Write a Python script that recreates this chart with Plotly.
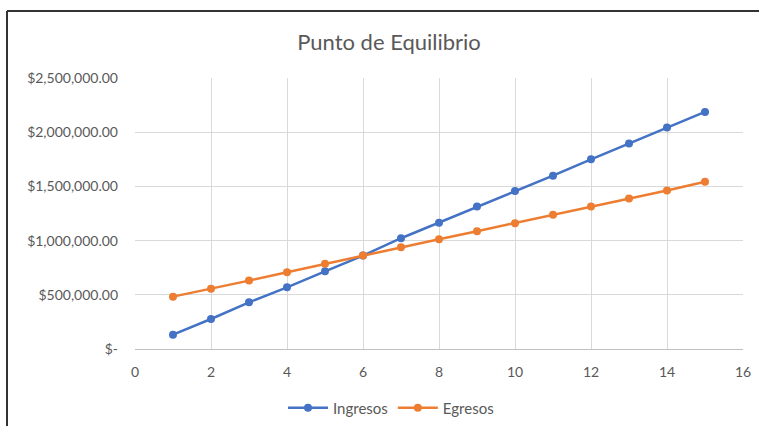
import plotly.graph_objects as go

periodos = list(range(1, 16))
ingresos = [132000, 277000, 431000, 569000, 717000, 862000, 1022000, 1165000,
            1315000, 1457000, 1599000, 1750000, 1895000, 2043000, 2187000]
egresos = [483000, 555000, 631000, 708000, 786000, 862000, 939000, 1013000,
           1087000, 1161000, 1238000, 1315000, 1389000, 1463000, 1543000]
y_ticks = [0, 500000, 1000000, 1500000, 2000000, 2500000]
y_labels = ["$-", "$500,000.00", "$1,000,000.00", "$1,500,000.00", "$2,000,000.00", "$2,500,000.00"]
x_ticks = [0, 2, 4, 6, 8, 10, 12, 14, 16]

FONT = "Lato"
GREY = "#595959"

fig = go.Figure()
fig.add_trace(go.Scatter(x=periodos, y=ingresos, name="Ingresos", mode="lines+markers",
                         line=dict(color="#4472C4", width=2.5),
                         marker=dict(size=8, color="#4472C4")))
fig.add_trace(go.Scatter(x=periodos, y=egresos, name="Egresos", mode="lines+markers",
                         line=dict(color="#ED7D31", width=2.5),
                         marker=dict(size=8, color="#ED7D31")))

W, H = 759, 426
L, R, T, B = 135, 16, 78, 77
pw, ph = W - L - R, H - T - B

def px(x):
    return (x - L) / pw

def py(y):
    return (H - B - y) / ph

fig.update_layout(
    width=W, height=H,
    margin=dict(l=L, r=R, t=T, b=B, autoexpand=False),
    paper_bgcolor="white", plot_bgcolor="white",
    font=dict(family=FONT, color=GREY, size=14),
    title=dict(text="Punto de Equilibrio", x=389 / W, xanchor="center", xref="container",
               y=1 - 42 / H, yanchor="middle", yref="container",
               font=dict(size=22, color=GREY, family=FONT)),
    showlegend=True,
    legend=dict(orientation="h", x=px(391), xanchor="center", y=py(408), yanchor="middle",
                font=dict(size=15, color=GREY, family=FONT), bgcolor="rgba(0,0,0,0)",
                itemwidth=40),
    xaxis=dict(range=[0, 16], tickvals=x_ticks, showgrid=True, gridcolor="#d9d9d9", gridwidth=1,
               zeroline=False, showline=True, linecolor="#bfbfbf", linewidth=1, automargin=False,
               ticks="", ticklabelstandoff=10, tickfont=dict(size=14, color=GREY)),
    yaxis=dict(range=[0, 2500000], tickvals=y_ticks, ticktext=y_labels, showgrid=True,
               gridcolor="#d9d9d9", gridwidth=1, zeroline=False, showline=False, automargin=False,
               ticks="", ticklabelstandoff=16, tickfont=dict(size=14, color=GREY)),
    shapes=[
        dict(type="line", xref="paper", yref="paper", x0=px(7), x1=px(760), y0=py(11), y1=py(11),
             line=dict(color="#333333", width=2)),
        dict(type="line", xref="paper", yref="paper", x0=px(7), x1=px(7), y0=py(11), y1=py(430),
             line=dict(color="#333333", width=2)),
    ],
)

fig.write_html("out.html", config={"displayModeBar": False},
               post_script="document.body.style.margin='0px';")
